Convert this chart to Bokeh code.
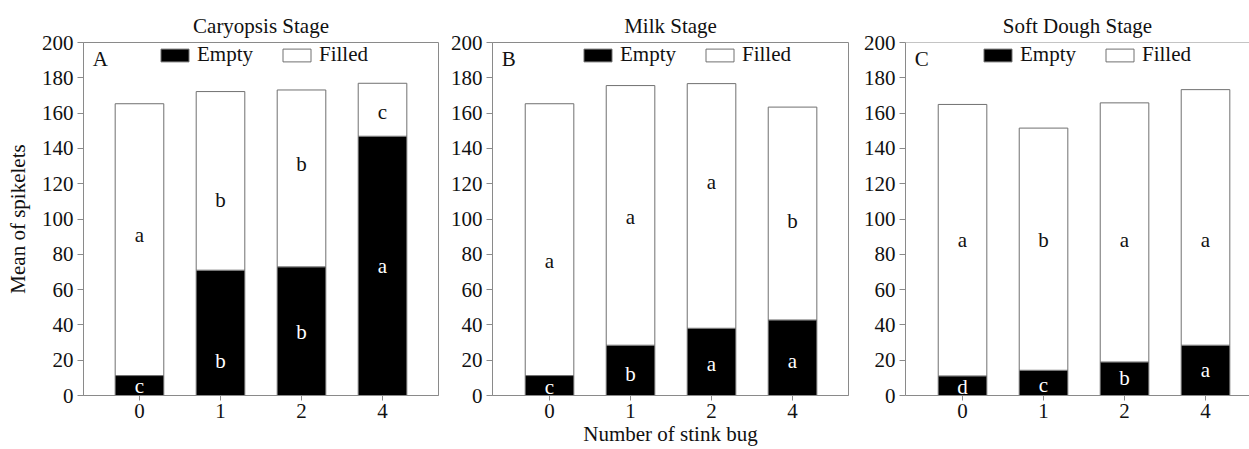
from bokeh.plotting import figure
from bokeh.layouts import row
from bokeh.models import Range1d, FixedTicker, Legend, LegendItem, Label, ColumnDataSource, Span
from bokeh.embed import file_html
from bokeh.resources import INLINE
from bokeh.core.properties import value

# ---------------- data ----------------
categories = ["0", "1", "2", "4"]
y_ticks = [0, 20, 40, 60, 80, 100, 120, 140, 160, 180, 200]

titles = ["Caryopsis Stage", "Milk Stage", "Soft Dough Stage"]
panel_letters = ["A", "B", "C"]
x_title = "Number of stink bug"
y_title = "Mean of spikelets"

a_empty = [11.3, 71.0, 72.9, 146.9]
a_filled = [154.0, 101.2, 100.2, 30.0]
b_empty = [11.3, 28.5, 38.1, 42.8]
b_filled = [154.0, 147.1, 138.6, 120.6]
c_empty = [11.1, 14.3, 19.0, 28.5]
c_filled = [153.8, 137.2, 146.8, 144.8]

a_empty_letters = ["c", "b", "b", "a"]
a_filled_letters = ["a", "b", "b", "c"]
b_empty_letters = ["c", "b", "a", "a"]
b_filled_letters = ["a", "a", "a", "b"]
c_empty_letters = ["d", "c", "b", "a"]
c_filled_letters = ["a", "b", "a", "a"]

# heights at which the significance letters sit
a_empty_label_y = [5.1, 19.3, 35.7, 73.2]
a_filled_label_y = [91.0, 111.0, 131.0, 160.6]
b_empty_label_y = [4.7, 12.2, 17.8, 19.3]
b_filled_label_y = [76.4, 101.4, 121.1, 98.6]
c_empty_label_y = [4.7, 6.0, 9.8, 14.5]
c_filled_label_y = [88.3, 88.3, 88.3, 88.3]

# ---------------- style ----------------
FONT = "Liberation Serif"
FS = "21px"
FS_AX = "21px"
GRAY = "#8a8a8a"
BAR_EDGE = "#707070"
TXT = "#111111"
H = 449
FRAME_H = 355


def make_panel(title, letter, empty, filled, e_letters, f_letters, e_y, f_y,
               width, b_left, b_right, b_top, b_bottom, x_start, x_end,
               legend_x, outline=True, ylabel=None, show_xlabel=False):
    p = figure(width=width, height=H, output_backend="svg", toolbar_location=None,
               x_range=Range1d(x_start, x_end), y_range=Range1d(0, 200),
               min_border_left=b_left, min_border_right=b_right,
               min_border_top=b_top, min_border_bottom=b_bottom)
    p.background_fill_color = "white"
    p.border_fill_color = "white"
    p.grid.visible = False
    if outline:
        p.outline_line_color = GRAY
        p.outline_line_alpha = 1.0
        p.outline_line_width = 1
    else:
        p.outline_line_color = None
        p.add_layout(Span(location=200, dimension="width", line_color=GRAY, line_width=1))

    p.title.text = title
    p.title.align = "center"
    p.title.text_font = FONT
    p.title.text_font_size = FS
    p.title.text_font_style = "normal"
    p.title.text_color = TXT
    p.title.padding = (0, 0, 6, 0)

    xs = list(range(len(categories)))
    src = ColumnDataSource(dict(x=xs, empty=empty, filled=filled))
    rs = p.vbar_stack(["empty", "filled"], x="x", width=0.6, source=src,
                      fill_color=["black", "white"], line_color=BAR_EDGE, line_width=1)

    p.text(x=xs, y=e_y, text=e_letters, text_color="white", text_font=value(FONT),
           text_font_size=FS, text_align="center", text_baseline="middle")
    p.text(x=xs, y=f_y, text=f_letters, text_color=TXT, text_font=value(FONT),
           text_font_size=FS, text_align="center", text_baseline="middle")

    # panel letter
    p.add_layout(Label(x=x_start + 0.115, y=190.4, text=letter, text_font=FONT,
                       text_font_size=FS, text_color=TXT, text_align="left",
                       text_baseline="middle"))

    legend = Legend(items=[LegendItem(label="Empty", renderers=[rs[0]]),
                           LegendItem(label="Filled", renderers=[rs[1]])],
                    orientation="horizontal", location=(legend_x, FRAME_H - 7 - 20),
                    glyph_width=35, glyph_height=16, label_standoff=5, spacing=26,
                    padding=0, margin=0, border_line_alpha=0, background_fill_alpha=0,
                    label_text_font=FONT, label_text_font_size=FS, label_text_color=TXT)
    p.add_layout(legend)

    for ax in (p.xaxis[0], p.yaxis[0]):
        ax.axis_line_color = GRAY
        ax.major_tick_line_color = GRAY
        ax.minor_tick_line_color = None
        ax.major_tick_out = 6
        ax.major_tick_in = 0
        ax.major_label_text_font = FONT
        ax.major_label_text_font_size = FS
        ax.major_label_text_color = TXT
        ax.axis_label_text_font = FONT
        ax.axis_label_text_font_size = FS_AX
        ax.axis_label_text_font_style = "normal"
        ax.axis_label_text_color = TXT
    p.xaxis.ticker = FixedTicker(ticks=xs)
    p.xaxis.major_label_overrides = {i: c for i, c in enumerate(categories)}
    p.xaxis.major_tick_out = 5
    p.xaxis.major_label_standoff = 3
    # every panel carries the x title (only the middle one shows it) so frames stay aligned
    p.xaxis.axis_label = x_title
    p.xaxis.axis_label_standoff = 1
    if not show_xlabel:
        p.xaxis.axis_label_text_alpha = 0
    p.yaxis.ticker = FixedTicker(ticks=y_ticks)
    p.yaxis.major_label_standoff = 4
    if ylabel:
        p.yaxis.axis_label = ylabel
        p.yaxis.axis_label_standoff = 9
    return p


pA = make_panel(titles[0], panel_letters[0], a_empty, a_filled, a_empty_letters, a_filled_letters,
                a_empty_label_y, a_filled_label_y, width=440, b_left=83, b_right=2,
                b_top=40, b_bottom=54, x_start=-0.691, x_end=3.691, legend_x=74,
                ylabel=y_title)
pB = make_panel(titles[1], panel_letters[1], b_empty, b_filled, b_empty_letters, b_filled_letters,
                b_empty_label_y, b_filled_label_y, width=410, b_left=52, b_right=2,
                b_top=40, b_bottom=54, x_start=-0.704, x_end=3.691, legend_x=88,
                show_xlabel=True)
pC = make_panel(titles[2], panel_letters[2], c_empty, c_filled, c_empty_letters, c_filled_letters,
                c_empty_label_y, c_filled_label_y, width=399, b_left=55, b_right=0,
                b_top=42, b_bottom=52, x_start=-0.704, x_end=3.543, legend_x=75,
                outline=False)

layout = row(pA, pB, pC, spacing=0)
open("out.html", "w").write(file_html(layout, INLINE))
